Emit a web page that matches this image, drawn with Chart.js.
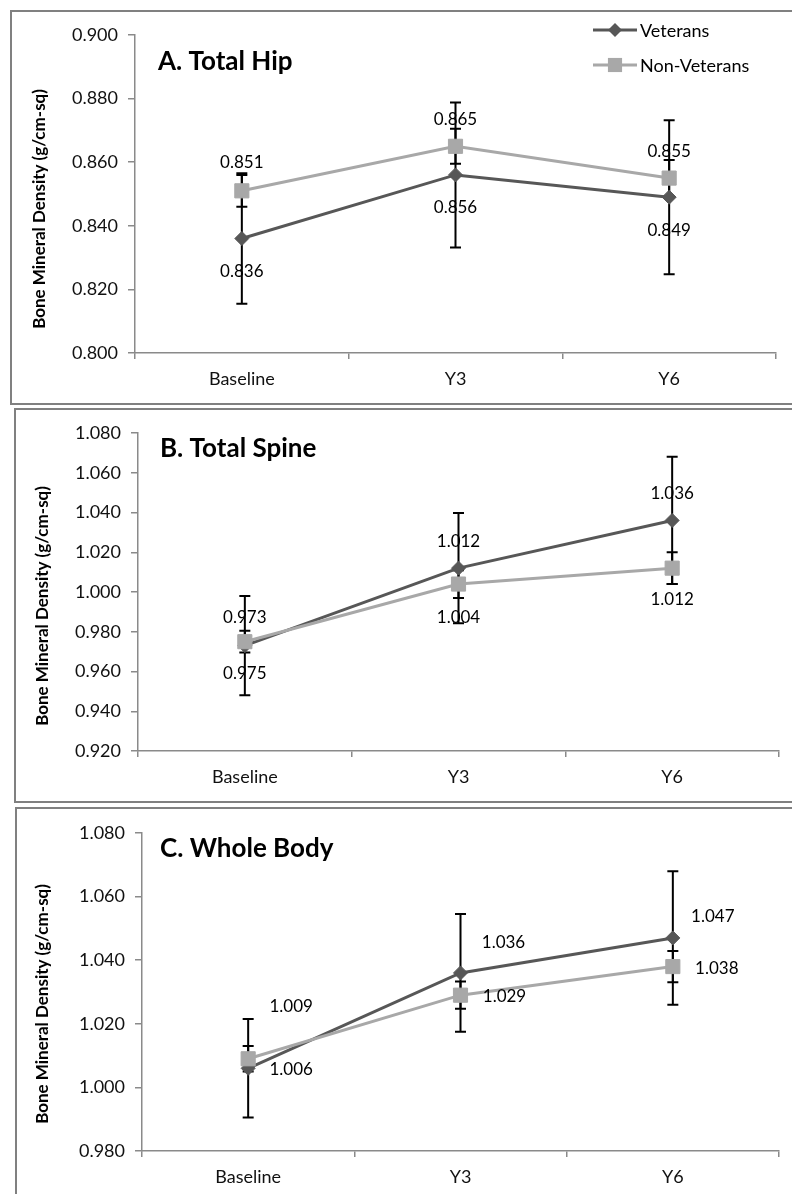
<!DOCTYPE html>
<html><head><meta charset="utf-8">
<script src="https://cdn.jsdelivr.net/npm/chart.js@4.4.0/dist/chart.umd.min.js"></script>
<style>
html,body{margin:0;padding:0;background:#fff;}
body{width:792px;height:1194px;position:relative;overflow:hidden;}
.panel{position:absolute;border:2px solid #808080;box-sizing:border-box;}
.wrap{position:absolute;left:0;width:792px;}
</style></head><body>
<div class="panel" style="left:10px;top:10px;width:800px;height:395px"></div>
<div class="panel" style="left:14px;top:408px;width:800px;height:395px"></div>
<div class="panel" style="left:15px;top:807px;width:800px;height:420px"></div>
<div class="wrap" style="top:0;height:405px"><canvas id="cA"></canvas></div>
<div class="wrap" style="top:405px;height:400px"><canvas id="cB"></canvas></div>
<div class="wrap" style="top:805px;height:389px"><canvas id="cC"></canvas></div>
<script>
// ---------- data ----------
const categories = ['Baseline', 'Y3', 'Y6'];
const seriesNames = ['Veterans', 'Non-Veterans'];
const yAxisTitle = 'Bone Mineral Density (g/cm-sq)';
const panelTitles = ['A. Total Hip', 'B. Total Spine', 'C. Whole Body'];

const hipVeterans = [0.836, 0.856, 0.849];
const hipNonVeterans = [0.851, 0.865, 0.855];
const hipVeteransErr = [0.0205, 0.0228, 0.0242];
const hipNonVeteransErr = [0.0050, 0.0055, 0.0057];
const hipTicks = [0.800, 0.820, 0.840, 0.860, 0.880, 0.900];

const spineVeterans = [0.973, 1.012, 1.036];
const spineNonVeterans = [0.975, 1.004, 1.012];
const spineVeteransErr = [0.0250, 0.0277, 0.0320];
const spineNonVeteransErr = [0.0055, 0.0070, 0.0080];
const spineTicks = [0.920, 0.940, 0.960, 0.980, 1.000, 1.020, 1.040, 1.060, 1.080];

const bodyVeterans = [1.006, 1.036, 1.047];
const bodyNonVeterans = [1.009, 1.029, 1.038];
const bodyVeteransErr = [0.0155, 0.0185, 0.0210];
const bodyNonVeteransErr = [0.0040, 0.0043, 0.0049];
const bodyTicks = [0.980, 1.000, 1.020, 1.040, 1.060, 1.080];

// ---------- styling / layout ----------
const FONT = 'Lato, "Open Sans", sans-serif';
const VET_COLOR = '#575757';
const NON_COLOR = '#a8a8a8';
const AXIS_COLOR = '#8a8a8a';

// data-label offsets (dx, dy) relative to each point, per panel: [veterans[], nonVeterans[]]
const labelOffsets = {
  A: [[[0, 33], [0, 33], [0, 33]], [[0, -28], [0, -27], [0, -27]]],
  B: [[[0, -28], [0, -27], [0, -27]], [[0, 32], [0, 33], [0, 31]]],
  C: [[[43, 1], [43, -30], [40, -21]], [[43, -52], [44, 1], [44, 2]]]
};

const panelLayout = {
  A: { pad: { left: 55, top: 35, right: 16, bottom: 12 }, titleX: 158, titleY: 62, yTitleX: 40, yTitleY: 209, legend: true },
  B: { pad: { left: 58, top: 28, right: 13, bottom: 14 }, titleX: 160, titleY: 44, yTitleX: 43, yTitleY: 201, legend: false },
  C: { pad: { left: 62, top: 28, right: 13, bottom: 3 }, titleX: 160, titleY: 44, yTitleX: 43, yTitleY: 199, legend: false }
};
const Y_SCALE_W = 80, X_SCALE_H = 40;

const errorBarPlugin = {
  id: 'errorBars',
  beforeDatasetsDraw(chart) {
    const ctx = chart.ctx, ys = chart.scales.y;
    ctx.save();
    ctx.strokeStyle = '#000';
    ctx.lineWidth = 2;
    chart.data.datasets.forEach((ds, di) => {
      const meta = chart.getDatasetMeta(di);
      ds.errors.forEach((e, i) => {
        const x = meta.data[i].x;
        const yTop = ys.getPixelForValue(ds.data[i] + e);
        const yBot = ys.getPixelForValue(ds.data[i] - e);
        ctx.beginPath();
        ctx.moveTo(x, yTop); ctx.lineTo(x, yBot);
        ctx.moveTo(x - 5.5, yTop); ctx.lineTo(x + 5.5, yTop);
        ctx.moveTo(x - 5.5, yBot); ctx.lineTo(x + 5.5, yBot);
        ctx.stroke();
      });
    });
    ctx.restore();
  }
};

const labelPlugin = {
  id: 'valueLabels',
  afterDatasetsDraw(chart, args, opts) {
    const ctx = chart.ctx;
    ctx.save();
    ctx.font = '17px ' + FONT;
    ctx.fillStyle = '#000';
    ctx.textAlign = 'center';
    ctx.textBaseline = 'middle';
    chart.data.datasets.forEach((ds, di) => {
      const meta = chart.getDatasetMeta(di);
      ds.data.forEach((v, i) => {
        const p = meta.data[i];
        const off = opts.offsets[di][i];
        ctx.fillText(v.toFixed(3), p.x + off[0], p.y + off[1]);
      });
    });
    ctx.restore();
  }
};

const decoPlugin = {
  id: 'deco',
  afterDraw(chart, args, opts) {
    const ctx = chart.ctx;
    ctx.save();
    // panel title
    ctx.font = 'bold 26px ' + FONT;
    ctx.fillStyle = '#000';
    ctx.textAlign = 'left';
    ctx.textBaseline = 'middle';
    ctx.fillText(opts.title, opts.titleX, opts.titleY);
    // y-axis title
    ctx.save();
    ctx.translate(opts.yTitleX, opts.yTitleY);
    ctx.rotate(-Math.PI / 2);
    ctx.font = 'bold 17px ' + FONT;
    ctx.textAlign = 'center';
    ctx.fillText(yAxisTitle, 0, 0);
    ctx.restore();
    // legend
    if (opts.legend) {
      const rows = [30, 65];
      [0, 1].forEach((di, r) => {
        const ds = chart.data.datasets[di];
        const y = rows[r];
        ctx.strokeStyle = ds.borderColor;
        ctx.lineWidth = 3;
        ctx.beginPath(); ctx.moveTo(593, y); ctx.lineTo(637, y); ctx.stroke();
        ctx.fillStyle = ds.backgroundColor;
        ctx.beginPath();
        if (ds.pointStyle === 'rect') {
          const s = Math.SQRT1_2 * ds.pointRadius;
          ctx.rect(615 - s, y - s, 2 * s, 2 * s);
        } else {
          const rr = ds.pointRadius;
          ctx.moveTo(615 - rr, y); ctx.lineTo(615, y - rr); ctx.lineTo(615 + rr, y); ctx.lineTo(615, y + rr); ctx.closePath();
        }
        ctx.fill();
        ctx.fillStyle = '#000';
        ctx.font = '18px ' + FONT;
        ctx.textAlign = 'left';
        ctx.textBaseline = 'middle';
        ctx.fillText(ds.label, 640, y + 1);
      });
    }
    ctx.restore();
  }
};

function makeChart(id, key, vet, non, vetErr, nonErr, ticks, title) {
  const L = panelLayout[key];
  const step = +(ticks[1] - ticks[0]).toFixed(4);
  return new Chart(document.getElementById(id), {
    type: 'line',
    data: {
      labels: categories,
      datasets: [
        { label: seriesNames[0], data: vet, errors: vetErr, borderColor: VET_COLOR, backgroundColor: VET_COLOR,
          borderWidth: 3, pointStyle: 'rectRot', pointRadius: 7, pointBorderWidth: 1, tension: 0, order: 1 },
        { label: seriesNames[1], data: non, errors: nonErr, borderColor: NON_COLOR, backgroundColor: NON_COLOR,
          borderWidth: 3, pointStyle: 'rect', pointRadius: 10, pointBorderWidth: 1, tension: 0, order: 0 }
      ]
    },
    options: {
      responsive: true, maintainAspectRatio: false, animation: false,
      layout: { padding: L.pad },
      plugins: {
        legend: { display: false }, title: { display: false }, tooltip: { enabled: false },
        valueLabels: { offsets: labelOffsets[key] },
        deco: { title: title, titleX: L.titleX, titleY: L.titleY, yTitleX: L.yTitleX, yTitleY: L.yTitleY, legend: L.legend }
      },
      scales: {
        x: {
          type: 'category', offset: true,
          grid: { offset: true, drawOnChartArea: false, drawTicks: true, tickLength: 6, color: AXIS_COLOR, lineWidth: 1.5 },
          border: { color: AXIS_COLOR, width: 1.5 },
          ticks: { color: '#111', font: { family: FONT, size: 18 }, padding: 9, maxRotation: 0 },
          afterFit(s) { s.height = X_SCALE_H; }
        },
        y: {
          min: ticks[0], max: ticks[ticks.length - 1],
          grid: { drawOnChartArea: false, drawTicks: true, tickLength: 7, color: AXIS_COLOR, lineWidth: 1.5 },
          border: { color: AXIS_COLOR, width: 1.5 },
          ticks: { stepSize: step, color: '#111', font: { family: FONT, size: 18 }, padding: 10,
                   callback: v => (+v).toFixed(3) },
          afterFit(s) { s.width = Y_SCALE_W; }
        }
      }
    },
    plugins: [errorBarPlugin, labelPlugin, decoPlugin]
  });
}

makeChart('cA', 'A', hipVeterans, hipNonVeterans, hipVeteransErr, hipNonVeteransErr, hipTicks, panelTitles[0]);
makeChart('cB', 'B', spineVeterans, spineNonVeterans, spineVeteransErr, spineNonVeteransErr, spineTicks, panelTitles[1]);
makeChart('cC', 'C', bodyVeterans, bodyNonVeterans, bodyVeteransErr, bodyNonVeteransErr, bodyTicks, panelTitles[2]);
</script>
</body></html>
